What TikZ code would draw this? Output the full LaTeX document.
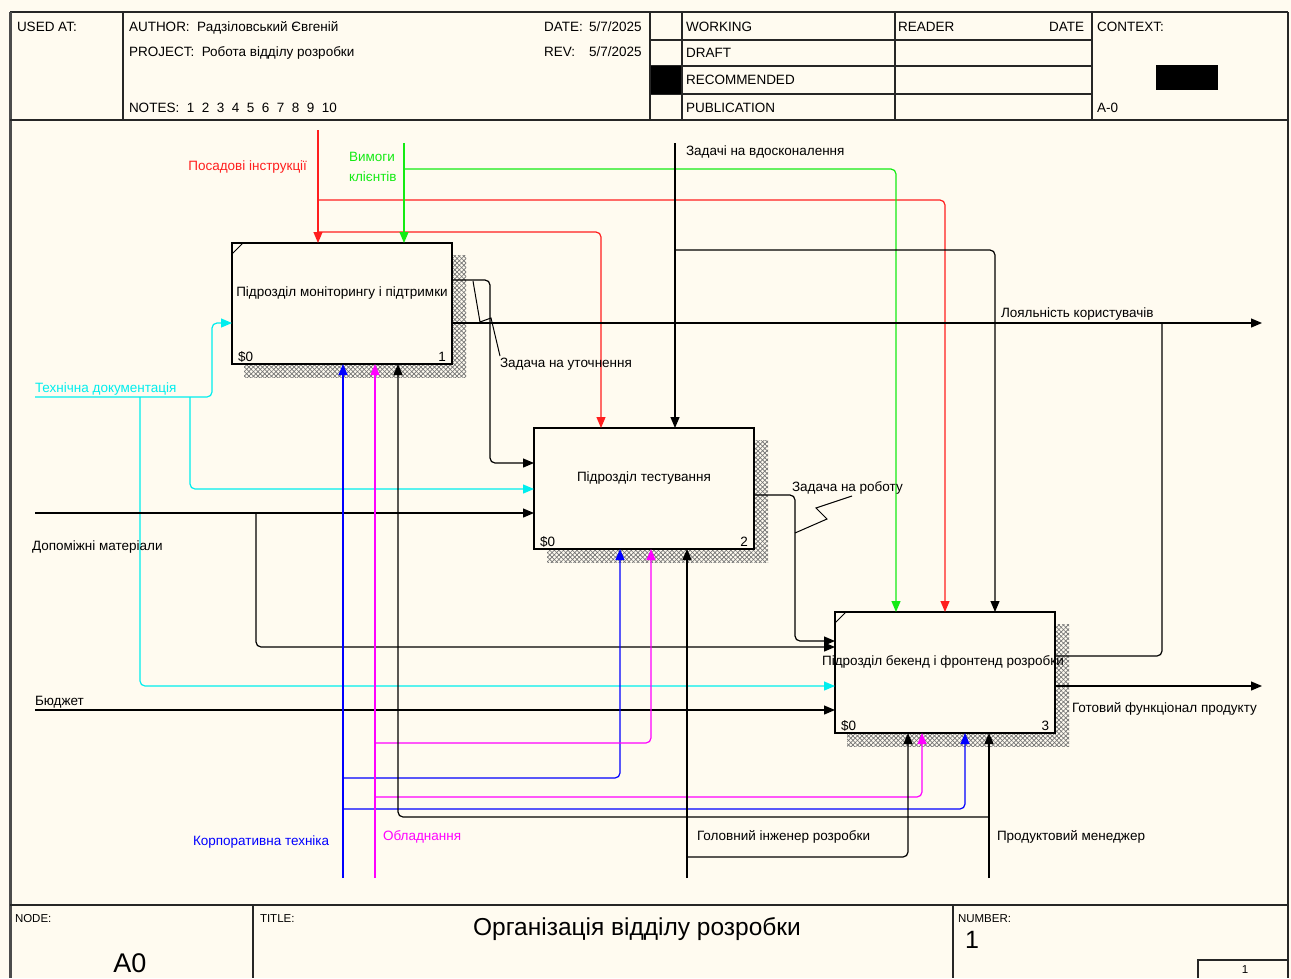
\documentclass[tikz,border=0pt]{standalone}
\usepackage{fontspec}
\setmainfont{Liberation Sans}
\usetikzlibrary{arrows.meta,patterns,patterns.meta}
\definecolor{paper}{RGB}{255,251,240}
\definecolor{cgreen}{RGB}{20,235,20}
\definecolor{ccyan}{RGB}{0,238,238}
\definecolor{cred}{RGB}{255,30,30}
\definecolor{cmag}{RGB}{255,0,255}
\definecolor{cblue}{RGB}{0,0,255}
\begin{document}
\begin{tikzpicture}[x=1pt,y=-1pt,
  every node/.style={inner sep=0pt,outer sep=0pt},
  lbl/.style={font=\fontsize{13.5}{16}\selectfont,anchor=mid west,yshift=-2pt},
  tiny/.style={font=\fontsize{11.5}{13}\selectfont,anchor=mid west},
  proc/.style={draw,line width=1.3pt,fill=paper,minimum width=220pt,minimum height=121pt,anchor=north west},
  boxtxt/.style={font=\fontsize{13.5}{16}\selectfont},
  conn/.style={line width=1.2pt,rounded corners=5pt},
  arr/.style={-{Triangle[length=11pt,width=9pt]}},
  frm/.style={line width=1.2pt,draw=black!85},
  shadeA/.style={pattern={Lines[angle=45,distance=3.2pt,line width=0.7pt]},pattern color=black!55},
  shadeB/.style={pattern={Lines[angle=-45,distance=3.2pt,line width=0.7pt]},pattern color=black!55},
  leader/.style={line width=1pt}
]
\useasboundingbox (0,0) rectangle (1291,978);
\fill[paper] (0,0) rectangle (1291,978);

% ---------- frame ----------
\draw[frm] (10,12) -- (1288,12);
\draw[frm] (1288,12) -- (1288,978);
\draw[line width=3pt,black!70] (10,12) -- (10,978);
\draw[frm] (10,120) -- (1288,120);
\draw[frm] (10,905) -- (1288,905);
\draw[frm] (123,12) -- (123,120);
\draw[frm] (650,12) -- (650,120);
\draw[frm] (682,12) -- (682,120);
\draw[frm] (895,12) -- (895,120);
\draw[frm] (1092,12) -- (1092,120);
\draw[frm] (650,40) -- (1092,40);
\draw[frm] (650,66) -- (1092,66);
\draw[frm] (650,94) -- (1092,94);
\fill (651,66) rectangle (681,94);
\fill (1156,65) rectangle (1218,90);

\node[lbl] (usedat) at (17,27) {USED AT:};
\node[lbl] (author) at (129,27) {AUTHOR:\ \ Радзіловський Євгеній};
\node[lbl] (project) at (129,52) {PROJECT:\ \ Робота відділу розробки};
\node[lbl] (notes) at (129,108) {NOTES:\ \ 1\ \ 2\ \ 3\ \ 4\ \ 5\ \ 6\ \ 7\ \ 8\ \ 9\ \ 10};
\node[lbl] (datel) at (544,27) {DATE:};
\node[lbl] (datev) at (589,27) {5/7/2025};
\node[lbl] (revl) at (544,52) {REV:};
\node[lbl] (revv) at (589,52) {5/7/2025};
\node[lbl] (working) at (686,27) {WORKING};
\node[lbl] (draft) at (686,53) {DRAFT};
\node[lbl] (recom) at (686,80) {RECOMMENDED};
\node[lbl] (publ) at (686,108) {PUBLICATION};
\node[lbl] (reader) at (898,27) {READER};
\node[lbl,anchor=mid east] (rdate) at (1084,27) {DATE};
\node[lbl] (context) at (1097,27) {CONTEXT:};
\node[lbl] (azero) at (1097,108) {A-0};

% ---------- footer ----------
\draw[frm] (253,905) -- (253,978);
\draw[frm] (953,905) -- (953,978);
\draw[frm] (1198,978) -- (1198,960) -- (1288,960);
\node[tiny] (nodel) at (15,920) {NODE:};
\node[font=\fontsize{27}{30}\selectfont] (nodev) at (130,963) {A0};
\node[tiny] (titlel) at (260,920) {TITLE:};
\node[font=\fontsize{24.5}{28}\selectfont] (title) at (637,929) {Організація відділу розробки};
\node[tiny] (numl) at (958,920) {NUMBER:};
\node[font=\fontsize{25}{28}\selectfont,anchor=mid west] (numv) at (965,946) {1};
\node[tiny,anchor=center] (pagev) at (1245,970) {1};

% ---------- shadows ----------
\fill[shadeA] (244,255) rectangle (466,377);
\fill[shadeB] (244,255) rectangle (466,377);
\fill[shadeA] (547,440) rectangle (768,562);
\fill[shadeB] (547,440) rectangle (768,562);
\fill[shadeA] (847,624) rectangle (1069,746);
\fill[shadeB] (847,624) rectangle (1069,746);

% ---------- boxes ----------
\node[proc] (b1) at (232,243) {};
\node[proc] (b2) at (534,428) {};
\node[proc] (b3) at (835,612) {};
\node[boxtxt] (t1) at (342,293) {Підрозділ моніторингу і підтримки};
\node[boxtxt] (t2) at (644,478) {Підрозділ тестування};
\node[boxtxt] (t3) at (943,662) {Підрозділ бекенд і фронтенд розробки};
\draw[line width=0.8pt] (232,254) -- (243,243);
\draw[line width=0.8pt] (835,623) -- (846,612);
\node[lbl,anchor=base west,yshift=0pt] (c1) at (238,359) {\$0};
\node[lbl,anchor=base east,yshift=0pt] (n1) at (446,359) {1};
\node[lbl,anchor=base west,yshift=0pt] (c2) at (540,544) {\$0};
\node[lbl,anchor=base east,yshift=0pt] (n2) at (748,544) {2};
\node[lbl,anchor=base west,yshift=0pt] (c3) at (841,728) {\$0};
\node[lbl,anchor=base east,yshift=0pt] (n3) at (1049,728) {3};

% ---------- controls (top) ----------
\coordinate (redtop) at (318,130);
\coordinate (redj1) at (318,232);
\coordinate (redj2) at (318,200);
\draw[conn,cred,arr] (redtop) -- (318,0 |- b1.north);
\draw[conn,cred,arr] (redj1) -- (601,232) -- (601,0 |- b2.north);
\draw[conn,cred,arr] (redj2) -- (945,200) -- (945,0 |- b3.north);
\node[lbl,anchor=mid east,text=cred] (posl) at (307,166) {Посадові інструкції};

\coordinate (greentop) at (404,143);
\coordinate (greenj) at (404,169);
\draw[conn,cgreen,arr] (greentop) -- (404,0 |- b1.north);
\draw[conn,cgreen,arr] (greenj) -- (896,169) -- (896,0 |- b3.north);
\node[lbl,text=cgreen] (viml1) at (349,157) {Вимоги};
\node[lbl,text=cgreen] (viml2) at (349,177) {клієнтів};

\coordinate (blacktop) at (675,143);
\coordinate (blackj) at (675,250);
\draw[conn,arr] (blacktop) -- (675,0 |- b2.north);
\draw[conn,arr] (blackj) -- (995,250) -- (995,0 |- b3.north);
\node[lbl] (zvdl) at (686,151) {Задачі на вдосконалення};

% ---------- outputs ----------
\coordinate (loyend) at (1262,323);
\coordinate (loyj) at (1162,323);
\draw[conn,arr] (b1.east |- 0,323) -- (loyend);
\draw[conn] (b3.east |- 0,656) -- (1162,656) -- (loyj);
\node[lbl] (loyl) at (1001,313) {Лояльність користувачів};

\draw[conn,arr] (b1.east |- 0,280) -- (490,280) -- (490,463) -- (b2.west |- 0,463);
\node[lbl] (zutl) at (500,363) {Задача на уточнення};
\draw[leader] (473,281) -- (480,322) -- (491,318) -- (500,356);

\draw[conn,arr] (b2.east |- 0,495) -- (795,495) -- (795,641) -- (b3.west |- 0,641);
\node[lbl] (zrobl) at (792,487) {Задача на роботу};
\draw[leader] (795,533) -- (827,519) -- (816,508) -- (852,496);

\coordinate (gotend) at (1262,686);
\draw[conn,arr] (b3.east |- 0,686) -- (gotend);
\node[lbl] (gotl) at (1072,708) {Готовий функціонал продукту};

% ---------- inputs ----------
\coordinate (tdstart) at (35,397);
\coordinate (tdj1) at (190,397);
\coordinate (tdj2) at (140,397);
\draw[conn,ccyan,arr] (tdstart) -- (212,397) -- (212,323) -- (b1.west |- 0,323);
\draw[conn,ccyan,arr] (tdj1) -- (190,489) -- (b2.west |- 0,489);
\draw[conn,ccyan,arr] (tdj2) -- (140,686) -- (b3.west |- 0,686);
\node[lbl,text=ccyan] (tdl) at (35,388) {Технічна документація};

\coordinate (dmstart) at (35,513);
\coordinate (dmj) at (256,513);
\draw[conn,arr] (dmstart) -- (b2.west |- 0,513);
\draw[conn,arr] (dmj) -- (256,647) -- (b3.west |- 0,647);
\node[lbl] (dml) at (32,546) {Допоміжні матеріали};

\coordinate (budstart) at (35,710);
\draw[conn,arr] (budstart) -- (b3.west |- 0,710);
\node[lbl] (budl) at (35,701) {Бюджет};

% ---------- mechanisms ----------
\coordinate (bluebot) at (343,878);
\coordinate (bluej1) at (343,778);
\coordinate (bluej2) at (343,809);
\draw[conn,cblue,arr] (bluebot) -- (343,0 |- b1.south);
\draw[conn,cblue,arr] (bluej1) -- (620,778) -- (620,0 |- b2.south);
\draw[conn,cblue,arr] (bluej2) -- (965,809) -- (965,0 |- b3.south);
\node[lbl,text=cblue] (ktl) at (193,841) {Корпоративна техніка};

\coordinate (magbot) at (375,878);
\coordinate (magj1) at (375,743);
\coordinate (magj2) at (375,797);
\draw[conn,cmag,arr] (magbot) -- (375,0 |- b1.south);
\draw[conn,cmag,arr] (magj1) -- (651,743) -- (651,0 |- b2.south);
\draw[conn,cmag,arr] (magj2) -- (922,797) -- (922,0 |- b3.south);
\node[lbl,text=cmag] (obl) at (383,836) {Обладнання};

\coordinate (gibot) at (687,878);
\coordinate (gij) at (687,857);
\draw[conn,arr] (gibot) -- (687,0 |- b2.south);
\draw[conn,arr] (gij) -- (908,857) -- (908,0 |- b3.south);
\node[lbl] (gil) at (697,836) {Головний інженер розробки};

\coordinate (pmbot) at (989,878);
\coordinate (pmj) at (989,817);
\draw[conn,arr] (pmbot) -- (989,0 |- b3.south);
\draw[conn,arr] (pmj) -- (398,817) -- (398,0 |- b1.south);
\node[lbl] (pml) at (997,836) {Продуктовий менеджер};
\end{tikzpicture}
\end{document}
